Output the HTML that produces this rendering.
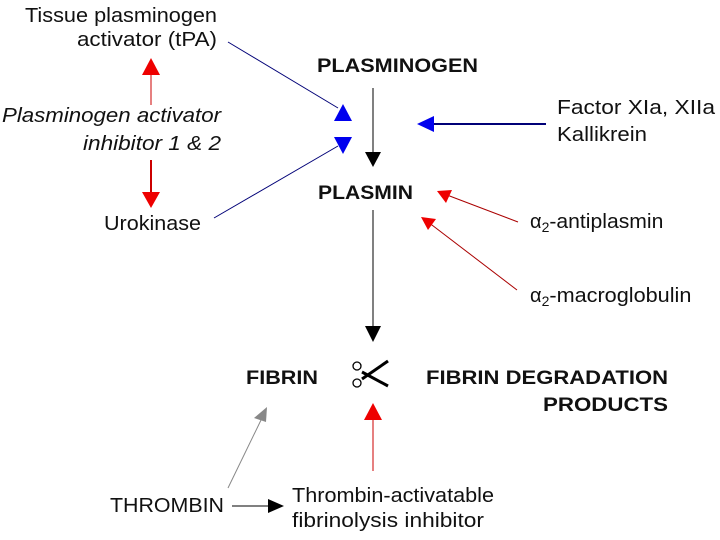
<!DOCTYPE html>
<html><head><meta charset="utf-8"><style>
html,body{margin:0;padding:0;background:#fff;}
svg{display:block;}
text{font-family:"Liberation Sans",sans-serif;font-size:20px;fill:#111;}
.b{font-weight:bold;font-size:19px;}
.i{font-style:italic;}
</style></head><body>
<svg width="720" height="540" viewBox="0 0 720 540" xmlns="http://www.w3.org/2000/svg">
<rect width="720" height="540" fill="#fff"/>
<text x="25" y="22" textLength="192" lengthAdjust="spacingAndGlyphs">Tissue plasminogen</text>
<text x="77" y="46" textLength="140" lengthAdjust="spacingAndGlyphs">activator (tPA)</text>
<text x="2" y="122" class="i" textLength="219" lengthAdjust="spacingAndGlyphs">Plasminogen activator</text>
<text x="83" y="150" class="i" textLength="138" lengthAdjust="spacingAndGlyphs">inhibitor 1 &amp; 2</text>
<text x="104" y="230" textLength="97" lengthAdjust="spacingAndGlyphs">Urokinase</text>
<text x="317" y="72" class="b" textLength="161" lengthAdjust="spacingAndGlyphs">PLASMINOGEN</text>
<text x="318" y="199" class="b" textLength="95" lengthAdjust="spacingAndGlyphs">PLASMIN</text>
<text x="557" y="114" textLength="158" lengthAdjust="spacingAndGlyphs">Factor XIa, XIIa</text>
<text x="557" y="141" textLength="90" lengthAdjust="spacingAndGlyphs">Kallikrein</text>
<text x="530" y="228">α<tspan font-size="14" dy="4">2</tspan><tspan dy="-4" textLength="114" lengthAdjust="spacingAndGlyphs">-antiplasmin</tspan></text>
<text x="530" y="302">α<tspan font-size="14" dy="4">2</tspan><tspan dy="-4" textLength="142" lengthAdjust="spacingAndGlyphs">-macroglobulin</tspan></text>
<text x="246" y="384" class="b" textLength="72" lengthAdjust="spacingAndGlyphs">FIBRIN</text>
<text x="426" y="384" class="b" textLength="242" lengthAdjust="spacingAndGlyphs">FIBRIN DEGRADATION</text>
<text x="543" y="411" class="b" textLength="125" lengthAdjust="spacingAndGlyphs">PRODUCTS</text>
<text x="110" y="512" textLength="114" lengthAdjust="spacingAndGlyphs">THROMBIN</text>
<text x="292" y="502" textLength="202" lengthAdjust="spacingAndGlyphs">Thrombin-activatable</text>
<text x="292" y="527" textLength="192" lengthAdjust="spacingAndGlyphs">fibrinolysis inhibitor</text>
<!-- scissors -->
<g stroke="#000" fill="none">
<path d="M362,372 L388,386" stroke-width="3"/>
<path d="M362,379 L388,361" stroke-width="3"/>
<ellipse cx="357" cy="366" rx="4" ry="4" stroke-width="1.3"/>
<ellipse cx="357" cy="383" rx="4" ry="4" stroke-width="1.3"/>
</g>
<!-- red PAI arrows -->
<line x1="151" y1="74" x2="151" y2="105" stroke="#c00" stroke-width="1"/>
<polygon points="151,58 142,75 160,75" fill="#e00"/>
<line x1="151" y1="160" x2="151" y2="193" stroke="#c00" stroke-width="2"/>
<polygon points="151,208 142,192 160,192" fill="#e00"/>
<!-- blue -->
<line x1="228" y1="42" x2="338" y2="108" stroke="#007" stroke-width="1"/>
<line x1="214" y1="218" x2="338" y2="146" stroke="#007" stroke-width="1"/>
<polygon points="343,104 334,121 352,121" fill="#00e"/>
<polygon points="343,154 334,137 352,137" fill="#00e"/>
<line x1="433" y1="124" x2="546" y2="124" stroke="#007" stroke-width="2"/>
<polygon points="417,124 434,116 434,132" fill="#00e"/>
<!-- black main -->
<line x1="373" y1="88" x2="373" y2="153" stroke="#000" stroke-width="1"/>
<polygon points="373,167 365,152 381,152" fill="#000"/>
<line x1="373" y1="210" x2="373" y2="327" stroke="#000" stroke-width="1"/>
<polygon points="373,342 365,326 381,326" fill="#000"/>
<!-- red inhibitors -->
<line x1="447" y1="195" x2="518" y2="222" stroke="#a00" stroke-width="1"/>
<polygon points="437,191 452,190 446,203" fill="#e00"/>
<line x1="428" y1="222" x2="517" y2="290" stroke="#a00" stroke-width="1"/>
<polygon points="421,217 436,219 428,230" fill="#e00"/>
<line x1="373" y1="418" x2="373" y2="471" stroke="#c00" stroke-width="1"/>
<polygon points="373,403 364,420 382,420" fill="#e00"/>
<!-- gray thrombin -->
<line x1="228" y1="488" x2="262" y2="418" stroke="#888" stroke-width="1"/>
<polygon points="267,407 254,418 266,422" fill="#888"/>
<line x1="232" y1="506" x2="270" y2="506" stroke="#000" stroke-width="1"/>
<polygon points="284,506 268,499 268,513" fill="#000"/>
</svg>
</body></html>
